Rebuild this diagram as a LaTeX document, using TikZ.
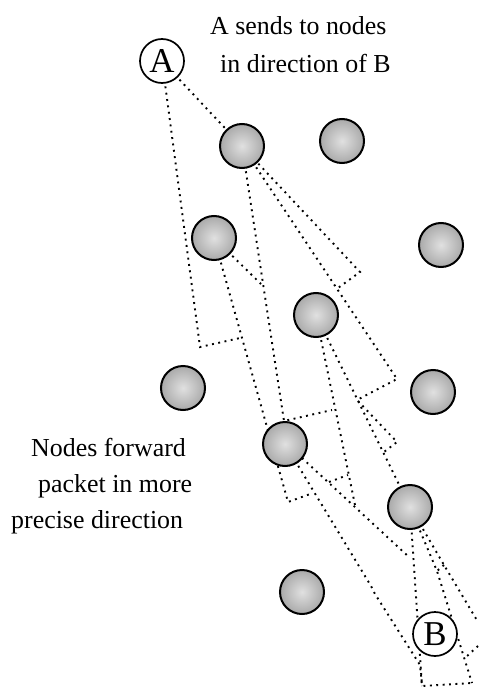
\documentclass[tikz,border=0pt]{standalone}
\usepackage{fontspec}
\setmainfont{Liberation Serif}
\colorlet{spherein}{black!12}
\colorlet{sphereout}{black!55}
\pgfdeclareradialshading{sphere}{\pgfpoint{0bp}{0bp}}{color(0bp)=(spherein); color(50bp)=(sphereout); color(100bp)=(sphereout)}
\begin{document}
\begin{tikzpicture}[x=1bp,y=-1bp,
  relay/.style={circle,draw=black,line width=2bp,minimum size=44bp,inner sep=0pt,shading=sphere},
  endpt/.style={circle,draw=black,line width=1.7bp,fill=white,minimum size=44bp,inner sep=0pt,font=\fontsize{35}{35}\selectfont},
  zone/.style={line width=1.9bp,dash pattern=on 1.9bp off 4.5bp},
  caption/.style={font=\fontsize{26}{30}\selectfont,inner sep=0pt,anchor=base west}]
\useasboundingbox (0,0) rectangle (479,689);

% node positions
\coordinate (pa)  at (162,61);
\coordinate (p1)  at (242,146);
\coordinate (p2)  at (342,141);
\coordinate (p3)  at (214,238);
\coordinate (p4)  at (441,245);
\coordinate (p5)  at (316,315);
\coordinate (p6)  at (183,388);
\coordinate (p7)  at (433,392);
\coordinate (p8)  at (285,444);
\coordinate (p9)  at (410,507);
\coordinate (p10) at (302,592);
\coordinate (pb)  at (435,634);

% forwarding zones (drawn first, the nodes cover them)
% zone of A
\draw[zone] (pa) -- (200,347) -- (240,338);
\draw[zone] (pa) -- (360,272) -- (338,288);
\draw[zone] (p3) -- (288,502) -- (313,493);
\draw[zone] (p3) -- (261,284);
% zone of the first relay
\draw[zone] (p1) -- (284,421) -- (332,410);
\draw[zone] (p1) -- (397,379) -- (357,400) -- (397,442) -- (384,452);
% zone of the middle relay
\draw[zone] (p5) -- (355,505);
\draw[zone] (p5) -- (p9);
% zone of the lower relay
\draw[zone] (302,458) -- (410,558);
\draw[zone] (329,482) -- (348,475);
\draw[zone] (p8) -- (371,586) -- (375,594) -- (420,665) -- (422,686) -- (472,683);
% zone of the last relay, reaching B
\draw[zone] (p9) -- (422,686);
\draw[zone] (p9) -- (437,571) -- (472,683);
\draw[zone] (p9) -- (444,565) -- (478,622);
\draw[zone] (444,565) -- (437,571);
\draw[zone] (478,646) -- (466,657);

% nodes
\node[endpt] (A) at (pa) {A};
\node[endpt] (B) at (pb) {B};
\node[relay] (n1) at (p1) {};
\node[relay] (n2) at (p2) {};
\node[relay] (n3) at (p3) {};
\node[relay] (n4) at (p4) {};
\node[relay] (n5) at (p5) {};
\node[relay] (n6) at (p6) {};
\node[relay] (n7) at (p7) {};
\node[relay] (n8) at (p8) {};
\node[relay] (n9) at (p9) {};
\node[relay] (n10) at (p10) {};

% captions
\node[caption] (t1) at (210,35) {A sends to nodes};
\node[caption] (t2) at (220,73) {in direction of B};
\node[caption] (t3) at (31,456) {Nodes forward};
\node[caption] (t4) at (38,492) {packet in more};
\node[caption] (t5) at (11,528) {precise direction};
\end{tikzpicture}
\end{document}
